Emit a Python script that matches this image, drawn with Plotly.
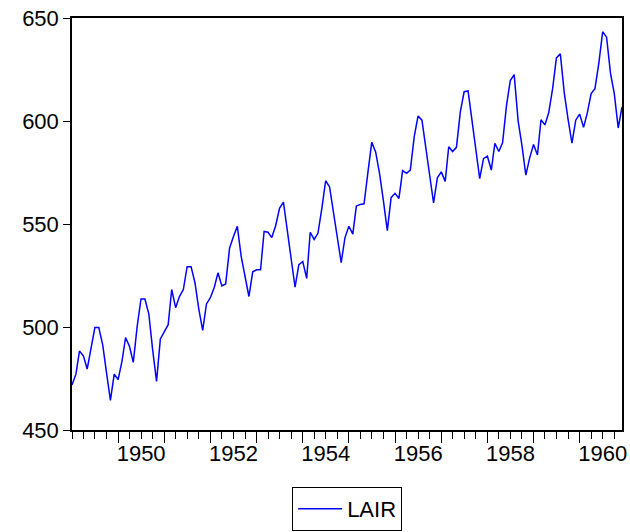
import pandas as pd
import plotly.graph_objects as go

# LAIR values (monthly, 1949-1960)
lair_1949 = [471.8, 477.1, 488.3, 486.0, 479.6, 490.5, 499.7, 499.7, 491.3, 477.9, 464.4, 477.1]
lair_1950 = [474.5, 483.6, 494.9, 490.5, 482.8, 500.4, 513.6, 513.6, 506.3, 489.0, 473.6, 494.2]
lair_1951 = [497.7, 501.1, 518.2, 509.4, 514.8, 518.2, 529.3, 529.3, 521.5, 508.8, 498.4, 511.2]
lair_1952 = [514.2, 519.3, 526.3, 519.9, 520.9, 538.4, 543.8, 548.9, 534.2, 525.2, 514.8, 526.8]
lair_1953 = [527.8, 527.8, 546.4, 546.0, 543.4, 549.3, 557.6, 560.6, 546.8, 535.2, 519.3, 530.3]
lair_1954 = [531.8, 523.6, 546.0, 542.5, 545.5, 557.6, 571.0, 568.0, 555.7, 543.4, 531.3, 543.4]
lair_1955 = [548.9, 545.1, 558.7, 559.5, 559.8, 575.3, 589.7, 584.9, 574.3, 561.3, 546.8, 562.8]
lair_1956 = [564.9, 562.4, 575.9, 574.6, 576.2, 592.4, 602.4, 600.4, 587.2, 572.4, 560.2, 572.4]
lair_1957 = [575.3, 570.7, 587.5, 585.2, 587.2, 604.5, 614.2, 614.6, 600.1, 584.9, 572.0, 581.7]
lair_1958 = [582.9, 576.2, 589.2, 585.2, 589.4, 607.5, 619.6, 622.5, 600.1, 588.3, 573.7, 582.0]
lair_1959 = [588.6, 583.5, 600.6, 598.1, 604.0, 615.7, 630.6, 632.6, 613.8, 600.9, 589.2, 600.4]
lair_1960 = [603.3, 596.9, 603.8, 613.3, 615.7, 628.2, 643.3, 640.7, 623.1, 613.3, 596.6, 606.8]

lair = (lair_1949 + lair_1950 + lair_1951 + lair_1952 + lair_1953 + lair_1954 +
        lair_1955 + lair_1956 + lair_1957 + lair_1958 + lair_1959 + lair_1960)
dates = pd.date_range("1949-01-01", periods=len(lair), freq="MS")

year_ticks = [f"{y}-01-01" for y in range(1950, 1961)]
label_years = [1950, 1952, 1954, 1956, 1958, 1960]
label_pos = [f"{y}-07-02" for y in label_years]
label_text = [str(y) for y in label_years]
y_ticks = [450, 500, 550, 600, 650]

FONT = "Arial, Liberation Sans, sans-serif"
x_range = [dates[0], dates[-1]]

fig = go.Figure()
fig.add_trace(go.Scatter(x=dates, y=lair, mode="lines", name="LAIR",
                         line=dict(color="#0000FF", width=1.5)))

fig.update_layout(
    width=630, height=532,
    margin=dict(l=72, r=8, t=18, b=102, autoexpand=False),
    plot_bgcolor="white", paper_bgcolor="white",
    font=dict(family=FONT, size=22, color="black"),
    showlegend=True,
    legend=dict(orientation="h", xref="container", yref="container",
                x=0.551, xanchor="center", y=0.0432, yanchor="middle",
                bordercolor="black", borderwidth=1, font=dict(size=22),
                itemwidth=44),
    xaxis=dict(type="date", range=x_range, showgrid=False, zeroline=False,
               automargin=False,
               showline=True, linecolor="black", linewidth=1.5, mirror=True,
               tickmode="array", tickvals=year_ticks, ticktext=[""] * len(year_ticks),
               ticks="outside", ticklen=11, tickwidth=1, tickcolor="black",
               minor=dict(dtick="M3", tick0="1949-01-01", ticks="outside", ticklen=7,
                          tickwidth=1, tickcolor="black", showgrid=False)),
    xaxis2=dict(type="date", range=x_range, overlaying="x", anchor="y", side="bottom",
                automargin=False,
                showgrid=False, zeroline=False, showline=False,
                tickmode="array", tickvals=label_pos, ticktext=label_text,
                ticks="outside", ticklen=4, tickcolor="rgba(0,0,0,0)",
                tickfont=dict(size=22)),
    yaxis=dict(range=[450, 650], showgrid=False, zeroline=False,
               automargin=False,
               showline=True, linecolor="black", linewidth=1.5, mirror=True,
               tickmode="array", tickvals=y_ticks,
               ticks="outside", ticklen=7, tickwidth=1, tickcolor="black",
               tickfont=dict(size=22)),
)
# invisible trace to keep xaxis2 active
fig.add_trace(go.Scatter(x=[dates[0]], y=[None], xaxis="x2", showlegend=False,
                         hoverinfo="skip", mode="lines"))

fig.write_html("out.html")
